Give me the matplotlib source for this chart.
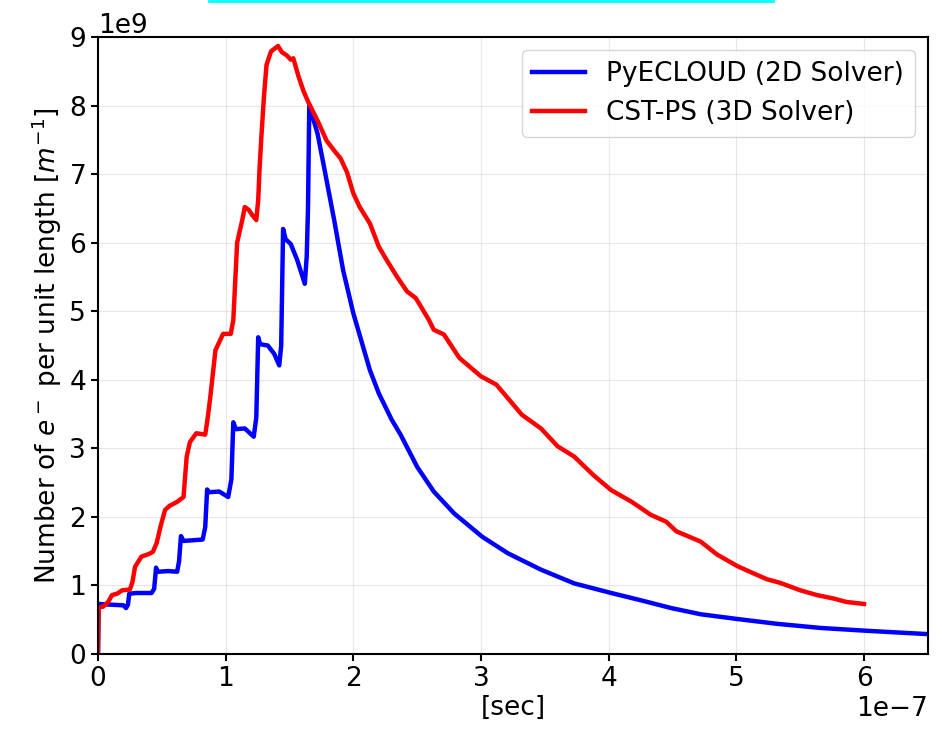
import matplotlib
matplotlib.use('Agg')
import matplotlib.pyplot as plt
import numpy as np
from matplotlib.lines import Line2D

# time in units of 1e-7 s, density in units of 1e9 m^-1
t_pyecloud = [0, 0.005, 0.10, 0.20, 0.22, 0.235, 0.245, 0.30, 0.42, 0.44, 0.455, 0.47, 0.55, 0.62, 0.635,
              0.65, 0.67, 0.75, 0.82, 0.84, 0.855, 0.87, 0.95, 1.02, 1.045, 1.06, 1.08, 1.15, 1.22, 1.24,
              1.255, 1.27, 1.33, 1.38, 1.42, 1.435, 1.45, 1.47, 1.51, 1.56, 1.62, 1.635, 1.645, 1.655,
              1.72, 1.77, 1.85, 1.92, 2.0, 2.13, 2.2, 2.3, 2.37, 2.5, 2.63, 2.79, 3.01, 3.21, 3.47, 3.73,
              4.02, 4.26, 4.49, 4.72, 5.01, 5.32, 5.66, 6.01, 6.5]
n_pyecloud = [0, 0.73, 0.72, 0.71, 0.67, 0.72, 0.88, 0.89, 0.89, 0.95, 1.26, 1.20, 1.21, 1.20, 1.35,
              1.72, 1.65, 1.66, 1.67, 1.85, 2.40, 2.36, 2.37, 2.29, 2.55, 3.38, 3.28, 3.29, 3.17, 3.45,
              4.62, 4.52, 4.50, 4.38, 4.21, 4.50, 6.20, 6.05, 5.98, 5.75, 5.40, 5.80, 6.50, 8.0,
              7.59, 7.11, 6.33, 5.60, 4.97, 4.14, 3.80, 3.42, 3.20, 2.73, 2.37, 2.05, 1.71, 1.47, 1.23, 1.03,
              0.89, 0.78, 0.67, 0.58, 0.51, 0.44, 0.38, 0.34, 0.29]

t_cst = [0, 0.005, 0.04, 0.08, 0.11, 0.15, 0.19, 0.25, 0.27, 0.29, 0.34, 0.40, 0.43, 0.46, 0.49, 0.525,
         0.56, 0.62, 0.67, 0.695, 0.72, 0.77, 0.84, 0.86, 0.88, 0.92, 0.98, 1.04, 1.06, 1.09, 1.13, 1.15,
         1.18, 1.21, 1.24, 1.255, 1.265, 1.28, 1.30, 1.32, 1.355, 1.39, 1.41, 1.44, 1.48, 1.51, 1.53,
         1.57, 1.61, 1.65, 1.72, 1.79, 1.86, 1.90, 1.95, 2.0, 2.05, 2.13, 2.20, 2.26, 2.34, 2.42, 2.49,
         2.59, 2.63, 2.71, 2.83, 3.0, 3.12, 3.32, 3.47, 3.60, 3.73, 3.88, 4.02, 4.18, 4.33, 4.45, 4.53,
         4.72, 4.85, 5.01, 5.13, 5.24, 5.34, 5.50, 5.63, 5.76, 5.86, 6.0]
n_cst = [0, 0.68, 0.69, 0.76, 0.86, 0.88, 0.93, 0.94, 1.05, 1.27, 1.42, 1.46, 1.49, 1.62, 1.86, 2.10,
         2.16, 2.22, 2.29, 2.88, 3.09, 3.22, 3.20, 3.45, 3.75, 4.43, 4.67, 4.67, 4.87, 6.0, 6.33, 6.52,
         6.48, 6.40, 6.33, 6.62, 7.06, 7.55, 8.13, 8.59, 8.79, 8.84, 8.87, 8.78, 8.73, 8.67, 8.69,
         8.43, 8.21, 8.04, 7.78, 7.49, 7.32, 7.23, 7.03, 6.72, 6.52, 6.28, 5.94, 5.75, 5.51, 5.29, 5.19,
         4.88, 4.73, 4.66, 4.32, 4.05, 3.93, 3.49, 3.29, 3.03, 2.88, 2.61, 2.39, 2.22, 2.03, 1.93, 1.79,
         1.64, 1.45, 1.28, 1.18, 1.09, 1.04, 0.93, 0.86, 0.81, 0.76, 0.73]

plt.rcParams['font.size'] = 19

fig = plt.figure(figsize=(9.42, 7.36), dpi=100)
ax = fig.add_axes([0.104, 0.1114, 0.881, 0.8383])
ax.plot(np.array(t_pyecloud) * 1e-7, np.array(n_pyecloud) * 1e9, 'b', lw=3.2, label='PyECLOUD (2D Solver)')
ax.plot(np.array(t_cst) * 1e-7, np.array(n_cst) * 1e9, 'r', lw=3.2, label='CST-PS (3D Solver)')
ax.set_xlim(0, 6.5e-7)
ax.set_ylim(0, 9e9)
ax.grid(True, alpha=0.3)
ax.set_xlabel('[sec]', labelpad=2)
ax.set_ylabel('Number of $e^-$ per unit length [$m^{-1}$]')
for s in ax.spines.values():
    s.set_linewidth(1.5)
ax.tick_params(width=1.5, length=5)
ax.legend(loc='upper right')

fig.add_artist(Line2D([209 / 942, 773 / 942], [0.999, 0.999], color='cyan', lw=2, transform=fig.transFigure))

plt.savefig('out.png', dpi=100)
